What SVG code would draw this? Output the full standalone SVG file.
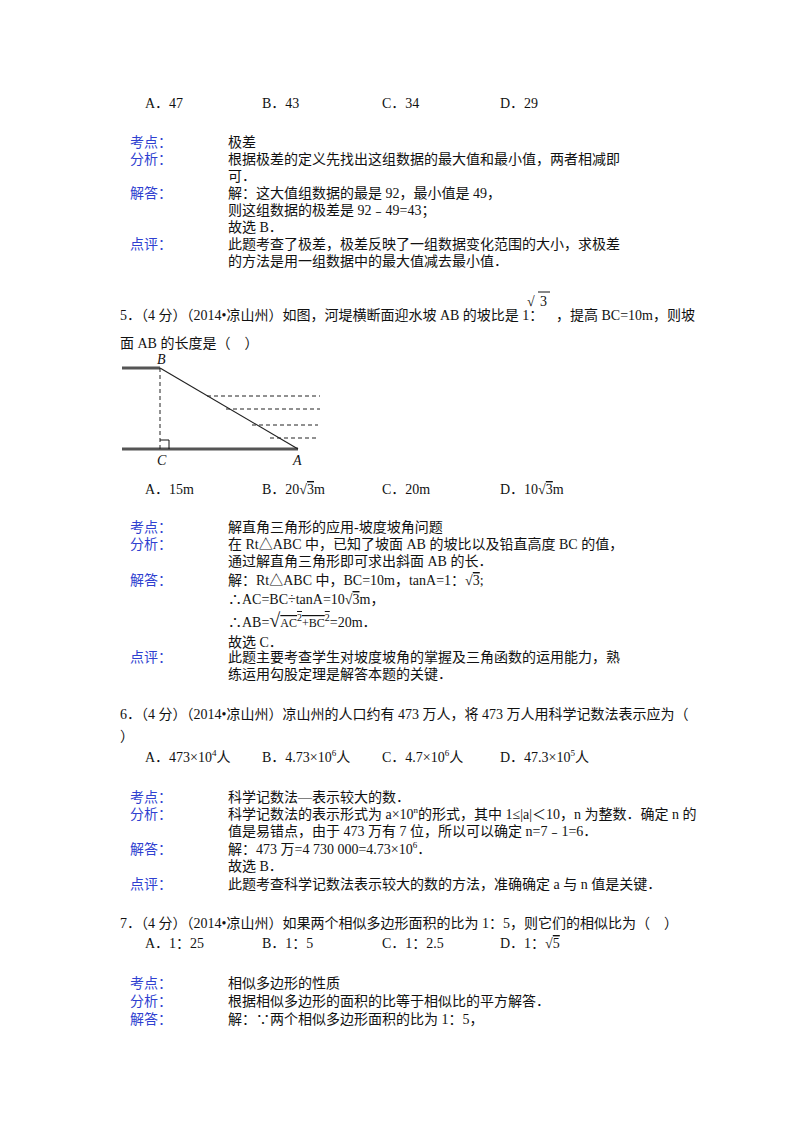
<svg xmlns="http://www.w3.org/2000/svg" width="800" height="1132" viewBox="0 0 800 1132">
<style>
text{font-family:"Liberation Serif","Noto Sans CJK SC",serif;font-size:14px;fill:#111}
.l{fill:#2f3fd0}
.g{stroke:#555;stroke-width:3;fill:none}
.k{stroke:#222;stroke-width:1.2;fill:none}
.d{stroke:#222;stroke-width:1;stroke-dasharray:4,3;fill:none}
.r{stroke:#111;stroke-width:1;fill:none}
.sup{font-size:9px}
.o{text-decoration:overline}
</style>
<rect width="800" height="1132" fill="#fff"/>
<text x="145" y="108">A．47</text><text x="262" y="108">B．43</text><text x="382" y="108">C．34</text><text x="500" y="108">D．29</text>
<text class="l" x="130" y="147">考点：</text><text x="228" y="147">极差</text>
<text class="l" x="130" y="164">分析：</text><text x="228" y="164">根据极差的定义先找出这组数据的最大值和最小值，两者相减即</text>
<text x="228" y="181">可．</text>
<text class="l" x="130" y="198">解答：</text><text x="228" y="198">解：这大值组数据的最是 92，最小值是 49，</text>
<text x="228" y="215">则这组数据的极差是 92﹣49=43；</text>
<text x="228" y="232">故选 B．</text>
<text class="l" x="130" y="249">点评：</text><text x="228" y="249">此题考查了极差，极差反映了一组数据变化范围的大小，求极差</text>
<text x="228" y="266">的方法是用一组数据中的最大值减去最小值．</text>
<text x="120" y="320">5．（4 分）（2014•凉山州）如图，河堤横断面迎水坡 AB 的坡比是 1：</text>
<text x="556" y="320">，提高 BC=10m，则坡</text>
<text x="527" y="306" font-size="18">√</text><path class="r" d="M538 292H550"/><text x="540" y="306">3</text>
<text x="120" y="348">面 AB 的长度是（　）</text>
<g id="figure">
<path class="g" d="M122 368H160M122 449H298"/>
<path class="k" d="M160 368L298 449"/>
<path class="d" d="M160 368V449M207 396H320M226 409H320M252 425H318M270 438H318"/>
<path class="r" d="M160 440H169V449"/>
<text x="157" y="364" font-style="italic">B</text>
<text x="157" y="465" font-style="italic">C</text>
<text x="293" y="465" font-style="italic">A</text>
</g>
<text x="145" y="494">A．15m</text>
<text x="262" y="494">B．20√<tspan class="o">3</tspan>m</text>
<text x="382" y="494">C．20m</text>
<text x="500" y="494">D．10√<tspan class="o">3</tspan>m</text>
<text class="l" x="130" y="532">考点：</text><text x="228" y="532">解直角三角形的应用-坡度坡角问题</text>
<text class="l" x="130" y="549">分析：</text><text x="228" y="549">在 Rt△ABC 中，已知了坡面 AB 的坡比以及铅直高度 BC 的值，</text>
<text x="228" y="566">通过解直角三角形即可求出斜面 AB 的长．</text>
<text class="l" x="130" y="585">解答：</text><text x="228" y="585">解：Rt△ABC 中，BC=10m，tanA=1：√<tspan class="o">3</tspan>;</text>
<text x="228" y="604">∴AC=BC÷tanA=10√<tspan class="o">3</tspan>m，</text>
<text x="228" y="627">∴AB=<tspan font-size="20">√</tspan><tspan class="o" font-size="12">AC<tspan dy="-6" font-size="10">2</tspan><tspan dy="6">+BC</tspan><tspan dy="-6" font-size="10">2</tspan></tspan><tspan dy="6">=20m．</tspan></text>
<text x="228" y="647">故选 C．</text>
<text class="l" x="130" y="662">点评：</text><text x="228" y="662">此题主要考查学生对坡度坡角的掌握及三角函数的运用能力，熟</text>
<text x="228" y="679">练运用勾股定理是解答本题的关键．</text>
<text x="120" y="719">6．（4 分）（2014•凉山州）凉山州的人口约有 473 万人，将 473 万人用科学记数法表示应为（</text>
<text x="120" y="741">）</text>
<text x="145" y="762">A．473×10<tspan class="sup" dy="-6">4</tspan><tspan dy="6">人</tspan></text>
<text x="262" y="762">B．4.73×10<tspan class="sup" dy="-6">6</tspan><tspan dy="6">人</tspan></text>
<text x="382" y="762">C．4.7×10<tspan class="sup" dy="-6">6</tspan><tspan dy="6">人</tspan></text>
<text x="500" y="762">D．47.3×10<tspan class="sup" dy="-6">5</tspan><tspan dy="6">人</tspan></text>
<text class="l" x="130" y="802">考点：</text><text x="228" y="802">科学记数法—表示较大的数．</text>
<text class="l" x="130" y="819">分析：</text><text x="228" y="819">科学记数法的表示形式为 a×10<tspan class="sup" dy="-6">n</tspan><tspan dy="6">的形式，其中 1≤|a|＜10，n 为整数．确定 n 的</tspan></text>
<text x="228" y="836">值是易错点，由于 473 万有 7 位，所以可以确定 n=7﹣1=6．</text>
<text class="l" x="130" y="854">解答：</text><text x="228" y="854">解：473 万=4 730 000=4.73×10<tspan class="sup" dy="-6">6</tspan><tspan dy="6">．</tspan></text>
<text x="228" y="871">故选 B．</text>
<text class="l" x="130" y="889">点评：</text><text x="228" y="889">此题考查科学记数法表示较大的数的方法，准确确定 a 与 n 值是关键．</text>
<text x="120" y="928">7．（4 分）（2014•凉山州）如果两个相似多边形面积的比为 1：5，则它们的相似比为（　）</text>
<text x="145" y="948">A．1：25</text><text x="262" y="948">B．1：5</text><text x="382" y="948">C．1：2.5</text>
<text x="500" y="948">D．1：√<tspan class="o">5</tspan></text>
<text class="l" x="130" y="988">考点：</text><text x="228" y="988">相似多边形的性质</text>
<text class="l" x="130" y="1006">分析：</text><text x="228" y="1006">根据相似多边形的面积的比等于相似比的平方解答．</text>
<text class="l" x="130" y="1024">解答：</text><text x="228" y="1024">解：∵两个相似多边形面积的比为 1：5，</text>
</svg>
